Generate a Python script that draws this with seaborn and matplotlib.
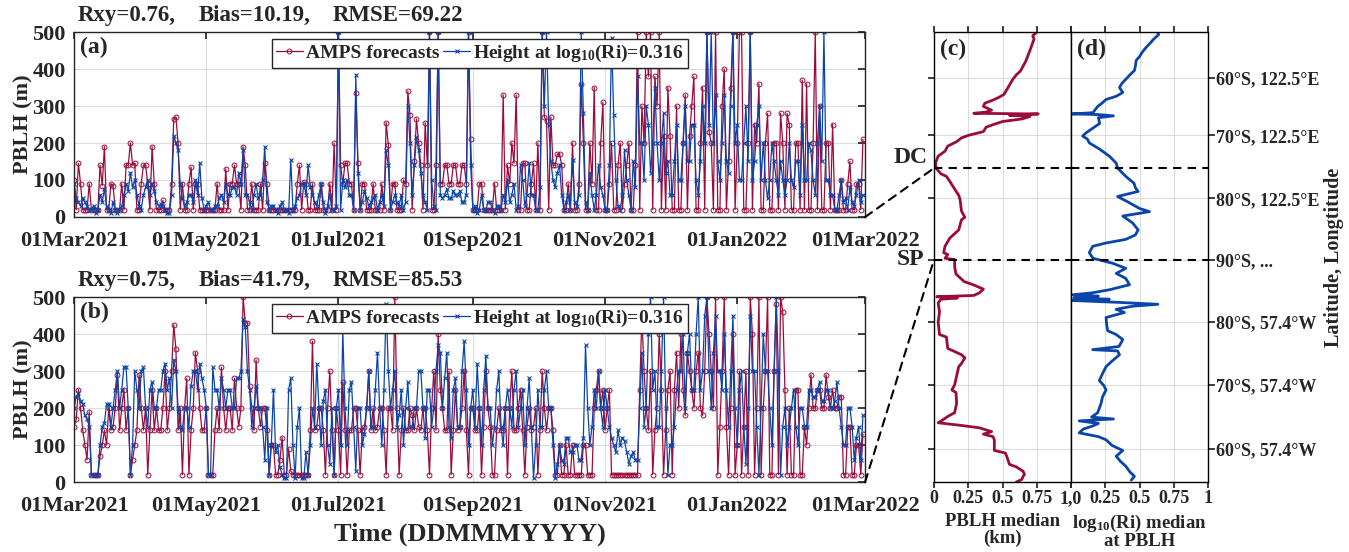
import numpy as np
import pandas as pd
import matplotlib
matplotlib.use('Agg')
import matplotlib.pyplot as plt
import matplotlib.dates as mdates
from matplotlib.patches import ConnectionPatch
import seaborn as sns

# daily PBLH (m) from 01Mar2021
start_day = '2021-03-01'

# (a) Dome C
dc_amps = [100, 20, 145, 90, 20, 20, 20, 90, 20, 20,
           20, 20, 140, 85, 190, 20, 20, 90, 85, 20,
           20, 20, 90, 20, 140, 140, 200, 140, 145, 20,
           20, 90, 140, 140, 90, 20, 190, 90, 20, 20,
           20, 45, 20, 20, 20, 90, 265, 270, 200, 20,
           90, 20, 20, 90, 135, 20, 90, 90, 20, 20,
           20, 20, 20, 20, 20, 20, 90, 20, 20, 20,
           130, 20, 90, 90, 140, 90, 90, 20, 190, 140,
           20, 20, 90, 20, 20, 20, 90, 20, 145, 90,
           20, 20, 20, 20, 20, 20, 20, 20, 20, 20,
           20, 20, 20, 90, 140, 20, 95, 90, 20, 20,
           90, 20, 20, 20, 90, 20, 20, 20, 90, 20,
           200, 20, 500, 140, 90, 145, 145, 90, 90, 20,
           335, 145, 20, 90, 90, 20, 20, 20, 90, 20,
           20, 20, 90, 20, 255, 195, 20, 90, 90, 20,
           20, 20, 100, 90, 340, 275, 20, 150, 265, 200,
           140, 20, 255, 140, 500, 20, 20, 140, 500, 90,
           90, 140, 140, 90, 90, 140, 140, 90, 90, 140,
           140, 90, 500, 210, 20, 20, 20, 90, 90, 20,
           20, 20, 20, 20, 90, 20, 20, 20, 330, 20,
           140, 90, 200, 145, 330, 20, 20, 145, 145, 20,
           20, 90, 145, 20, 200, 20, 500, 270, 260, 20,
           270, 140, 140, 170, 170, 140, 20, 20, 90, 20,
           200, 20, 20, 90, 360, 200, 20, 20, 200, 90,
           350, 20, 20, 200, 310, 20, 20, 90, 200, 20,
           20, 140, 200, 20, 90, 140, 200, 20, 20, 140,
           500, 20, 300, 200, 500, 380, 500, 20, 380, 300,
           500, 20, 220, 20, 350, 220, 20, 20, 300, 20,
           20, 200, 330, 20, 220, 300, 380, 20, 20, 200,
           350, 20, 500, 230, 200, 20, 500, 20, 20, 300,
           400, 20, 150, 350, 500, 20, 200, 500, 500, 20,
           20, 200, 500, 20, 250, 200, 360, 20, 20, 200,
           280, 20, 20, 200, 200, 20, 280, 200, 20, 280,
           250, 20, 20, 200, 200, 20, 370, 20, 360, 20,
           20, 200, 500, 20, 300, 20, 20, 200, 200, 20,
           250, 20, 20, 20, 100, 20, 20, 90, 150, 20,
           20, 90, 90, 20, 210]
dc_ri = [90, 50, 40, 30, 50, 40, 30, 20, 20, 30,
         10, 20, 60, 40, 75, 30, 20, 10, 40, 20,
         10, 20, 30, 60, 90, 70, 120, 80, 100, 60,
         30, 20, 60, 80, 100, 60, 90, 70, 40, 30,
         35, 30, 20, 10, 10, 60, 220, 200, 180, 90,
         50, 30, 40, 60, 60, 40, 100, 60, 145, 50,
         20, 30, 40, 20, 20, 30, 30, 50, 60, 40,
         90, 60, 60, 80, 80, 60, 120, 90, 180, 60,
         60, 40, 20, 60, 90, 50, 60, 100, 190, 40,
         20, 30, 30, 20, 10, 30, 40, 20, 20, 10,
         155, 20, 30, 50, 60, 90, 90, 60, 140, 80,
         60, 40, 30, 60, 90, 40, 10, 30, 60, 20,
         20, 30, 500, 20, 100, 80, 100, 60, 60, 20,
         385, 120, 20, 40, 70, 50, 30, 40, 50, 60,
         20, 40, 60, 30, 180, 140, 20, 40, 60, 40,
         30, 60, 20, 40, 300, 200, 60, 140, 215, 180,
         120, 60, 40, 20, 500, 100, 30, 20, 500, 60,
         50, 60, 75, 50, 50, 70, 60, 60, 70, 40,
         40, 60, 500, 140, 20, 30, 10, 20, 60, 20,
         20, 40, 40, 20, 10, 30, 30, 20, 60, 40,
         100, 40, 60, 90, 20, 30, 140, 100, 30, 60,
         145, 60, 60, 20, 20, 80, 500, 300, 500, 250,
         150, 100, 80, 120, 140, 60, 20, 40, 60, 20,
         155, 40, 30, 60, 500, 280, 40, 20, 120, 60,
         20, 60, 140, 80, 60, 20, 20, 140, 485, 275,
         100, 30, 20, 60, 180, 100, 60, 20, 150, 80,
         380, 200, 200, 100, 300, 250, 120, 200, 350, 200,
         100, 200, 280, 120, 150, 60, 60, 150, 250, 100,
         100, 200, 300, 150, 150, 250, 250, 100, 60, 150,
         300, 200, 500, 250, 500, 200, 330, 150, 100, 200,
         330, 150, 120, 300, 500, 200, 250, 100, 100, 200,
         300, 150, 500, 100, 150, 250, 300, 100, 200, 100,
         50, 100, 200, 150, 100, 60, 150, 100, 60, 100,
         200, 100, 80, 150, 150, 60, 250, 100, 100, 200,
         180, 100, 60, 200, 300, 150, 500, 100, 100, 60,
         60, 20, 20, 60, 100, 40, 50, 20, 80, 40,
         30, 60, 100, 40, 60]

# (b) South Pole
sp_amps = [150, 170, 250, 200, 140, 100, 60, 190, 20, 20,
           20, 20, 70, 100, 140, 100, 200, 140, 150, 200,
           290, 140, 200, 250, 140, 200, 20, 60, 100, 140,
           290, 200, 140, 200, 20, 140, 250, 140, 200, 140,
           140, 200, 300, 140, 200, 300, 425, 360, 140, 200,
           20, 200, 280, 20, 140, 200, 350, 300, 200, 140,
           140, 200, 20, 20, 20, 140, 200, 140, 310, 200,
           140, 200, 200, 140, 280, 200, 150, 200, 500, 430,
           430, 260, 200, 140, 330, 200, 150, 200, 200, 140,
           20, 100, 100, 20, 20, 60, 120, 20, 20, 90,
           30, 20, 20, 20, 20, 20, 20, 20, 20, 140,
           380, 140, 150, 200, 200, 140, 20, 200, 300, 140,
           20, 200, 140, 20, 270, 140, 20, 140, 140, 200,
           200, 140, 20, 140, 150, 200, 300, 140, 200, 140,
           150, 200, 200, 140, 20, 200, 200, 140, 500, 200,
           20, 140, 200, 140, 140, 200, 180, 140, 200, 150,
           140, 200, 200, 140, 20, 200, 300, 140, 400, 250,
           200, 140, 140, 300, 20, 140, 250, 140, 150, 200,
           300, 140, 20, 200, 200, 140, 140, 200, 20, 150,
           300, 200, 150, 20, 20, 140, 200, 140, 140, 200,
           20, 200, 300, 140, 140, 200, 250, 140, 20, 150,
           200, 140, 150, 200, 20, 140, 300, 200, 140, 200,
           200, 140, 20, 20, 100, 20, 20, 100, 20, 20,
           100, 20, 20, 20, 20, 100, 100, 20, 20, 20,
           200, 250, 300, 200, 250, 140, 200, 250, 20, 20,
           20, 20, 20, 20, 20, 20, 20, 20, 20, 20,
           20, 250, 450, 300, 200, 140, 300, 20, 140, 200,
           400, 250, 20, 140, 250, 300, 20, 250, 350, 200,
           400, 250, 180, 350, 300, 250, 200, 300, 350, 200,
           180, 300, 500, 400, 300, 200, 500, 20, 150, 300,
           500, 150, 20, 200, 400, 20, 100, 300, 20, 150,
           300, 20, 500, 400, 20, 200, 500, 20, 200, 300,
           500, 20, 20, 300, 480, 20, 500, 460, 250, 20,
           200, 20, 20, 250, 250, 20, 20, 150, 100, 200,
           290, 200, 200, 250, 250, 200, 200, 290, 230, 200,
           250, 200, 200, 230, 230, 20, 20, 150, 150, 20,
           20, 100, 100, 20, 130]
sp_ri = [200, 230, 240, 220, 210, 180, 170, 150, 20, 20,
         20, 20, 100, 150, 160, 210, 210, 150, 200, 250,
         300, 200, 250, 310, 310, 200, 20, 100, 300, 250,
         200, 300, 310, 200, 150, 250, 270, 200, 200, 250,
         250, 300, 320, 250, 280, 200, 330, 300, 200, 150,
         140, 200, 200, 150, 260, 300, 300, 250, 320, 280,
         250, 200, 20, 20, 310, 250, 250, 200, 280, 250,
         200, 250, 250, 200, 200, 280, 280, 300, 440, 420,
         300, 250, 150, 200, 260, 200, 200, 150, 60, 200,
         20, 100, 250, 80, 100, 40, 20, 10, 10, 250,
         280, 100, 10, 150, 200, 10, 10, 80, 20, 100,
         200, 150, 320, 200, 100, 220, 250, 100, 50, 200,
         20, 200, 250, 100, 410, 200, 100, 250, 270, 150,
         30, 200, 200, 100, 130, 200, 300, 150, 150, 250,
         350, 200, 100, 250, 480, 300, 200, 250, 300, 150,
         180, 250, 100, 200, 270, 150, 150, 200, 200, 300,
         300, 200, 120, 250, 250, 150, 200, 300, 370, 350,
         200, 280, 350, 150, 120, 250, 280, 150, 150, 300,
         380, 250, 100, 200, 250, 150, 320, 200, 100, 250,
         340, 200, 200, 100, 150, 250, 300, 150, 100, 200,
         250, 200, 150, 250, 300, 150, 200, 250, 100, 200,
         280, 150, 10, 100, 250, 150, 150, 250, 300, 200,
         200, 100, 10, 50, 100, 60, 50, 120, 120, 80,
         80, 100, 100, 60, 60, 120, 370, 200, 100, 150,
         250, 200, 300, 200, 150, 250, 200, 150, 120, 100,
         80, 140, 100, 120, 110, 80, 50, 70, 80, 60,
         60, 200, 350, 150, 200, 400, 500, 250, 300, 150,
         150, 300, 500, 200, 20, 100, 100, 150, 250, 300,
         300, 400, 200, 350, 400, 250, 250, 400, 500, 250,
         300, 450, 500, 300, 200, 350, 450, 300, 300, 250,
         400, 250, 150, 300, 450, 200, 100, 250, 300, 150,
         50, 200, 450, 300, 300, 150, 20, 200, 400, 300,
         300, 200, 100, 300, 500, 300, 20, 150, 200, 100,
         150, 200, 250, 150, 100, 200, 200, 150, 150, 250,
         250, 230, 230, 250, 270, 220, 220, 250, 250, 200,
         200, 220, 270, 200, 150, 100, 100, 200, 200, 150,
         60, 120, 150, 60, 180]

stats_a = ['Rxy=0.76,', 'Bias=10.19,', 'RMSE=69.22']
stats_b = ['Rxy=0.75,', 'Bias=41.79,', 'RMSE=85.53']

# (c) median PBLH (km) along the track
track_c = [71.4, 70.8, 70.3, 68.5, 66.8, 66.0, 65.2, 64.6, 63.9, 62.6,
           61.5, 61.0, 60.6, 60.1, 59.6, 59.0, 58.7, 58.5, 58.4, 58.2,
           58.0, 57.6, 57.2, 56.7, 56.3, 55.6, 55.0, 54.6, 54.0, 53.3,
           52.5, 51.7, 50.6, 49.8, 48.9, 48.5, 47.7, 46.5, 45.5, 44.8,
           43.0, 42.0, 41.6, 40.0, 38.7, 37.4, 36.4, 36.1, 35.5, 35.3,
           34.2, 33.0, 31.8, 31.3, 30.6, 30.0, 29.6, 29.4, 29.2, 29.0,
           28.4, 27.0, 25.4, 23.4, 23.0, 21.2, 20.7, 20.2, 19.7, 18.8,
           18.3, 15.4, 14.6, 14.2, 12.5, 11.0, 10.4, 9.8, 9.4, 9.0,
           8.6, 8.0, 7.6, 7.2, 6.7, 5.0, 4.6, 4.1, 2.8, 2.4,
           1.7, 1.2, 0.9, 0.4, 0.0]
pblh_med = [0.75, 0.72, 0.73, 0.70, 0.67, 0.65, 0.63, 0.60, 0.575, 0.54,
            0.51, 0.47, 0.43, 0.37, 0.36, 0.42, 0.38, 0.29, 0.76, 0.55,
            0.70, 0.64, 0.50, 0.43, 0.38, 0.36, 0.25, 0.20, 0.165, 0.10,
            0.08, 0.03, 0.01, 0.015, 0.05, 0.09, 0.115, 0.15, 0.18, 0.19,
            0.20, 0.225, 0.20, 0.18, 0.115, 0.08, 0.07, 0.10, 0.08, 0.15,
            0.15, 0.16, 0.22, 0.286, 0.36, 0.33, 0.29, 0.02, 0.17, 0.05,
            0.03, 0.04, 0.03, 0.04, 0.09, 0.10, 0.15, 0.20, 0.225, 0.20,
            0.18, 0.15, 0.13, 0.16, 0.165, 0.15, 0.10, 0.06, 0.03, 0.19,
            0.33, 0.42, 0.36, 0.43, 0.44, 0.44, 0.52, 0.53, 0.55, 0.60,
            0.65, 0.66, 0.65, 0.64, 0.60]

# (d) median log10(Ri) at PBLH along the track
track_d = [71.4, 71.0, 70.2, 69.8, 69.0, 68.2, 67.5, 66.9, 66.0, 65.3,
           64.6, 63.9, 63.2, 62.6, 61.8, 61.2, 60.7, 60.0, 59.6, 58.6,
           58.4, 58.3, 58.1, 57.8, 56.9, 56.3, 55.4, 54.9, 54.4, 53.8,
           52.8, 51.7, 50.6, 49.8, 48.5, 47.4, 46.7, 46.1, 45.3, 44.3,
           43.4, 42.9, 42.2, 41.1, 40.0, 39.2, 38.5, 37.9, 37.4, 36.4,
           35.5, 34.7, 33.9, 33.1, 32.3, 31.3, 30.5, 30.0, 29.7, 29.5,
           29.2, 29.0, 28.8, 28.5, 28.2, 27.9, 27.4, 26.9, 26.1, 25.0,
           24.0, 23.4, 22.6, 21.5, 21.0, 20.8, 20.2, 19.2, 18.3, 17.2,
           16.1, 15.3, 14.6, 13.5, 12.5, 11.0, 10.3, 10.0, 9.7, 9.3,
           8.9, 8.4, 7.8, 7.2, 6.7, 5.8, 5.0, 4.1, 3.3, 2.5,
           1.6, 0.9, 0.3]
ri_med = [0.63, 0.64, 0.60, 0.585, 0.55, 0.52, 0.50, 0.476, 0.47, 0.463,
          0.43, 0.40, 0.37, 0.354, 0.378, 0.33, 0.256, 0.22, 0.195, 0.16,
          0.01, 0.20, 0.31, 0.20, 0.21, 0.17, 0.11, 0.085, 0.12, 0.134,
          0.21, 0.28, 0.33, 0.34, 0.40, 0.46, 0.47, 0.49, 0.34, 0.427,
          0.50, 0.573, 0.378, 0.45, 0.49, 0.47, 0.40, 0.25, 0.159, 0.134,
          0.16, 0.305, 0.40, 0.33, 0.40, 0.427, 0.28, 0.15, 0.01, 0.20,
          0.02, 0.28, 0.01, 0.35, 0.634, 0.45, 0.33, 0.39, 0.256, 0.26,
          0.268, 0.33, 0.378, 0.35, 0.158, 0.34, 0.354, 0.30, 0.256, 0.23,
          0.207, 0.24, 0.256, 0.23, 0.22, 0.195, 0.15, 0.31, 0.06, 0.20,
          0.16, 0.09, 0.06, 0.20, 0.256, 0.30, 0.378, 0.33, 0.36, 0.40,
          0.43, 0.463, 0.44]

track_ticks = [5.2, 15.4, 25.4, 35.3, 45.0, 55.0, 64.1]
track_labels = ['60°S, 57.4°W', '70°S, 57.4°W', '80°S, 57.4°W', '90°S, ...',
                '80°S, 122.5°E', '70°S, 122.5°E', '60°S, 122.5°E']
s_dc = 49.8
s_sp = 35.3
track_top = 71.4

red = '#9B0C3C'
blue = '#0B45A8'
ink = '#262626'

sns.set_theme(style='white')
plt.rcParams['font.family'] = ['Liberation Serif', 'DejaVu Serif']
plt.rcParams['font.weight'] = 'bold'
plt.rcParams['axes.labelweight'] = 'bold'
plt.rcParams['mathtext.fontset'] = 'custom'
plt.rcParams['mathtext.rm'] = 'Liberation Serif:bold'
plt.rcParams['mathtext.default'] = 'rm'
plt.rcParams['text.color'] = ink
plt.rcParams['axes.labelcolor'] = ink

fig = plt.figure(figsize=(13.49, 5.52), dpi=100)
ax_a = fig.add_axes([0.0549, 0.6069, 0.5864, 0.3351])
ax_b = fig.add_axes([0.0549, 0.1268, 0.5864, 0.3351])
ax_c = fig.add_axes([0.6924, 0.1268, 0.1016, 0.8152])
ax_d = fig.add_axes([0.7939, 0.1268, 0.1016, 0.8152])

dates = pd.date_range(start_day, periods=len(dc_amps), freq='D')


def draw_series(ax, amps, ri, tag, stats):
    sns.lineplot(x=dates, y=amps, ax=ax, estimator=None, color=red, linewidth=0.9,
                 marker='o', markersize=3.5, markerfacecolor='none',
                 markeredgecolor=red, markeredgewidth=0.7, label='AMPS forecasts')
    sns.lineplot(x=dates, y=ri, ax=ax, estimator=None, color=blue, linewidth=0.9,
                 marker='x', markersize=2.5, markeredgecolor=blue, markeredgewidth=0.8,
                 label='Height at $\\mathrm{log}_{10}$(Ri)=0.316')
    ax.set_xlim(pd.Timestamp('2021-03-01'), pd.Timestamp('2022-03-01'))
    ax.set_ylim(0, 500)
    ax.set_yticks(range(0, 501, 100))
    ax.xaxis.set_major_locator(mdates.MonthLocator(bymonth=[1, 3, 5, 7, 9, 11]))
    ax.xaxis.set_major_formatter(mdates.DateFormatter('%d%b%Y'))
    ax.grid(True, color='#DCDCDC', linewidth=0.8)
    ax.set_axisbelow(True)
    ax.tick_params(direction='in', length=5, top=True, right=True,
                   labelsize=16, colors=ink)
    ax.tick_params(axis='x', pad=10)
    ax.tick_params(axis='y', pad=6)
    for sp in ax.spines.values():
        sp.set_color(ink)
        sp.set_linewidth(1.0)
    ax.set_ylabel('PBLH (m)', fontsize=16, labelpad=-1)
    ax.set_xlabel('')
    # statistics line above the panel
    for xpos, txt in zip([0.004, 0.157, 0.327], stats):
        ax.text(xpos, 1.035, txt, transform=ax.transAxes, ha='left', va='bottom',
                fontsize=16.5)
    ax.text(0.007, 0.975, tag, transform=ax.transAxes, ha='left', va='top', fontsize=17)
    leg = ax.legend(loc='upper left', bbox_to_anchor=(0.25, 0.962), ncol=2, fontsize=14,
                    frameon=True, fancybox=False, framealpha=1, edgecolor=ink,
                    handlelength=1.4, handletextpad=0.15, columnspacing=0.2,
                    borderpad=0.2, borderaxespad=0)
    leg.get_frame().set_linewidth(1.0)


draw_series(ax_a, dc_amps, dc_ri, '(a)', stats_a)
draw_series(ax_b, sp_amps, sp_ri, '(b)', stats_b)
ax_b.set_xlabel('Time (DDMMMYYYY)', fontsize=19, labelpad=5)

# vertical profiles
sns.lineplot(x=pblh_med, y=track_c, ax=ax_c, orient='y', sort=False, estimator=None,
             color=red, linewidth=2.0)
sns.lineplot(x=ri_med, y=track_d, ax=ax_d, orient='y', sort=False, estimator=None,
             color=blue, linewidth=2.0)

for ax, tag in [(ax_c, '(c)'), (ax_d, '(d)')]:
    ax.set_xlim(0, 1)
    ax.set_ylim(0, track_top)
    ax.set_xticks([0, 0.25, 0.5, 0.75, 1])
    ax.set_yticks(track_ticks)
    ax.grid(True, color='#DCDCDC', linewidth=0.8)
    ax.set_axisbelow(True)
    for sp in ax.spines.values():
        sp.set_color('black')
        sp.set_linewidth(1.0)
    ax.tick_params(axis='x', direction='out', length=4, top=True, bottom=True,
                   labelsize=13, colors=ink, pad=2)
    ax.text(0.044, 0.985, tag, transform=ax.transAxes, ha='left', va='top', fontsize=17)
    for s in (s_dc, s_sp):
        ax.axhline(s, color='black', linestyle=(0, (4, 3)), linewidth=1.5, zorder=5)

ax_c.set_xticklabels(['0', '0.25', '0.5', '0.75', ''])
ax_d.set_xticklabels(['1,0', '0.25', '0.5', '0.75', '1'])
ax_c.tick_params(axis='y', direction='out', length=4, left=True, right=True,
                 labelleft=False, colors=ink)
ax_d.tick_params(axis='y', direction='out', length=5, left=False, right=True,
                 labelleft=False, labelright=True, labelsize=13, colors=ink, pad=1)
ax_d.set_yticklabels(track_labels)
ax_c.set_ylabel('')
ax_d.set_ylabel('Latitude, Longtitude', fontsize=14.5, labelpad=3)
ax_d.yaxis.set_label_position('right')
ax_c.set_xlabel('PBLH median\n(km)', fontsize=13.5, linespacing=0.95, labelpad=4)
ax_d.set_xlabel('$\\mathrm{log}_{10}$(Ri) median\nat PBLH', fontsize=13.5,
                linespacing=0.95, labelpad=4)

# station markers and connectors
ax_c.text(-0.05, s_dc, 'DC', transform=ax_c.get_yaxis_transform(), ha='right',
          va='bottom', fontsize=17)
ax_c.text(-0.07, s_sp, 'SP', transform=ax_c.get_yaxis_transform(), ha='right',
          va='center', fontsize=17)
for ax_src, s in [(ax_a, s_dc), (ax_b, s_sp)]:
    con = ConnectionPatch(xyA=(1, 0), coordsA=ax_src.transAxes, xyB=(0, s),
                          coordsB=ax_c.transData, color='black',
                          linestyle=(0, (4, 3)), linewidth=1.5)
    fig.add_artist(con)

fig.savefig('out.png', dpi=100)
